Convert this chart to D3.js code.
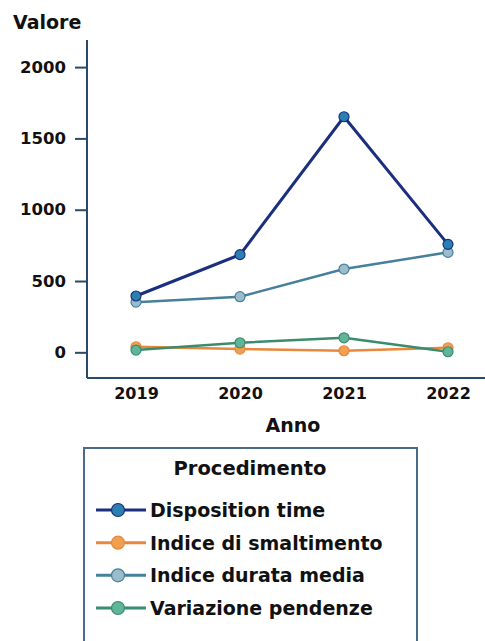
<!DOCTYPE html>
<html><head><meta charset="utf-8">
<script src="https://cdn.jsdelivr.net/npm/d3@7"></script>
<style>body{margin:0;background:#fff}svg{display:block}</style>
</head><body>
<svg id="c" width="485" height="641"></svg>
<script>
const years = ["2019","2020","2021","2022"];
const yTicks = [0,500,1000,1500,2000];
const seriesNames = ["Disposition time","Indice di smaltimento","Indice durata media","Variazione pendenze"];
const dispositionTime = [395,685,1652,757];
const indiceSmaltimento = [39,23,11,32];
const indiceDurataMedia = [352,390,584,701];
const variazionePendenze = [16,67,102,4];
const seriesValues = [dispositionTime,indiceSmaltimento,indiceDurataMedia,variazionePendenze];
const lineColors = ["#1b2f7e","#e8883a","#47809a","#3a8c6c"];
const markerColors = ["#2a80b0","#f0a050","#9bbccb","#5fb59a"];

const svg = d3.select("#c");
const font = "'DejaVu Sans', Verdana, sans-serif";
const x = d3.scalePoint().domain(years).range([136,448]);
const y = d3.scaleLinear().domain([-180,2190]).range([378,40]);

// axes
const yAxis = svg.append("g").attr("transform","translate(87,0)")
  .call(d3.axisLeft(y).tickValues(yTicks).tickSize(12).tickPadding(9).tickFormat(d3.format("d")));
yAxis.select(".domain").attr("stroke","#2a4a6a").attr("stroke-width",2).attr("d","M0,40V378");
yAxis.selectAll(".tick line").attr("stroke","#2a4a6a").attr("stroke-width",2);
yAxis.selectAll("text").attr("font-family",font).attr("font-weight","bold").attr("font-size",16.5).attr("fill","#111");

const xAxis = svg.append("g").attr("transform","translate(0,378)")
  .call(d3.axisBottom(x).tickSize(0).tickPadding(10));
xAxis.select(".domain").attr("stroke","#2a4a6a").attr("stroke-width",2).attr("d","M87,0H485");
xAxis.selectAll("text").attr("font-family",font).attr("font-weight","bold").attr("font-size",16).attr("fill","#111");

svg.append("text").attr("x",13).attr("y",29).text("Valore")
  .attr("font-family",font).attr("font-weight","bold").attr("font-size",19).attr("fill","#111");
svg.append("text").attr("x",293).attr("y",432).attr("text-anchor","middle").text("Anno")
  .attr("font-family",font).attr("font-weight","bold").attr("font-size",19).attr("fill","#111");

const line = d3.line().x((d,i)=>x(years[i])).y(d=>y(d));
[2,1,3,0].forEach(k=>{
  const g = svg.append("g");
  g.append("path").attr("d",line(seriesValues[k])).attr("fill","none")
    .attr("stroke",lineColors[k]).attr("stroke-width",k===0?3:2.5);
  g.selectAll("circle").data(seriesValues[k]).join("circle")
    .attr("cx",(d,i)=>x(years[i])).attr("cy",d=>y(d)).attr("r",5)
    .attr("fill",markerColors[k]).attr("stroke",lineColors[k]).attr("stroke-width",1.2);
});

// legend
svg.append("rect").attr("x",84).attr("y",448).attr("width",333).attr("height",220)
  .attr("fill","none").attr("stroke","#4a6a8a").attr("stroke-width",2);
svg.append("text").attr("x",250).attr("y",475).attr("text-anchor","middle").text("Procedimento")
  .attr("font-family",font).attr("font-weight","bold").attr("font-size",19.5).attr("fill","#111");
const ly = d3.scalePoint().domain(seriesNames).range([517,615]);
seriesNames.forEach((n,k)=>{
  const g = svg.append("g").attr("transform",`translate(0,${ly(n)})`);
  g.append("line").attr("x1",96).attr("x2",146).attr("y1",-7).attr("y2",-7).attr("stroke",lineColors[k]).attr("stroke-width",3);
  g.append("circle").attr("cx",118).attr("cy",-7).attr("r",6.5).attr("fill",markerColors[k]).attr("stroke",lineColors[k]).attr("stroke-width",1.2);
  g.append("text").attr("x",150).attr("y",0).text(n)
    .attr("font-family",font).attr("font-weight","bold").attr("font-size",19).attr("fill","#111");
});
</script>
</body></html>
